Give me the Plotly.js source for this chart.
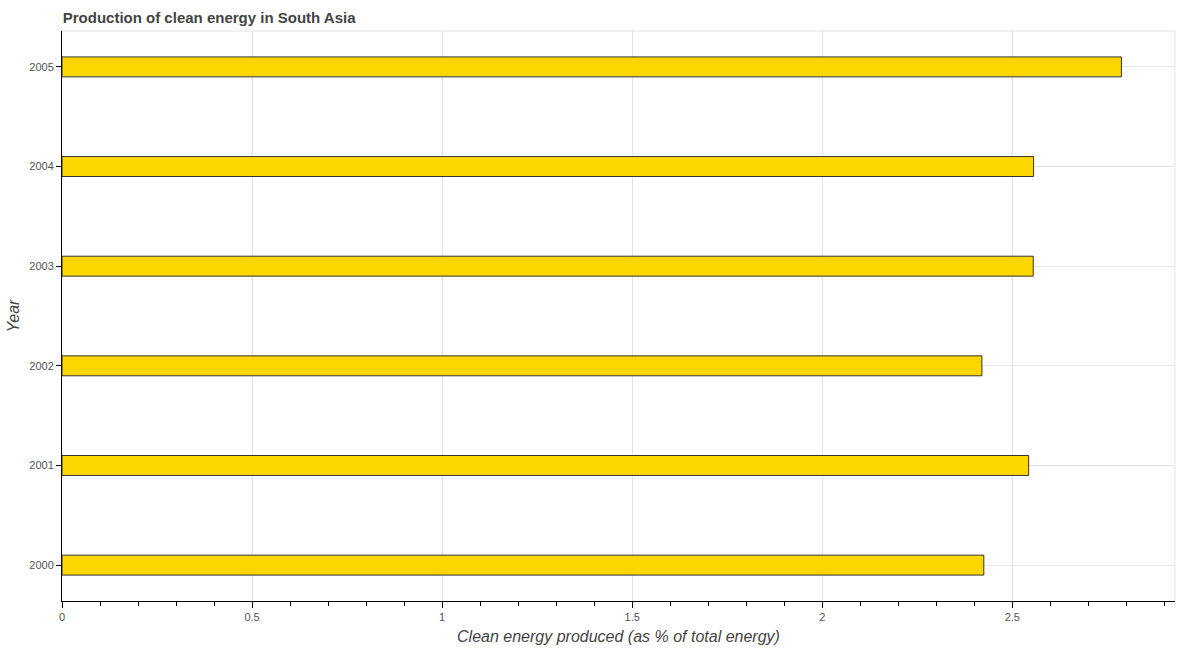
<!DOCTYPE html>
<html>
<head>
<meta charset="utf-8">
<script src="https://cdn.plot.ly/plotly-3.0.1.min.js"></script>
<style>html,body{margin:0;padding:0;background:#fff;}#chart{width:1179px;height:650px;}</style>
</head>
<body>
<div id="chart"></div>
<script>
const years = ["2000", "2001", "2002", "2003", "2004", "2005"];
const cleanEnergy = [2.425, 2.543, 2.420, 2.555, 2.556, 2.787];
const chartTitle = "Production of clean energy in South Asia";
const xTitle = "Clean energy produced (as % of total energy)";
const yTitle = "Year";

const FONT = "Liberation Sans, Arial, sans-serif";

const trace = {
  type: "bar",
  orientation: "h",
  y: years,
  x: cleanEnergy,
  width: 0.2,
  marker: {color: "#FFD700", line: {color: "#333333", width: 1}},
  hoverinfo: "x+y"
};

const layout = {
  width: 1179,
  height: 650,
  margin: {l: 62, r: 4, t: 31, b: 49},
  paper_bgcolor: "#ffffff",
  plot_bgcolor: "#ffffff",
  title: {text: "<b>" + chartTitle + "</b>", x: 0.0532, xanchor: "left", y: 0.972, yanchor: "middle",
          font: {family: FONT, size: 15, color: "#444444"}},
  xaxis: {
    title: {text: "<i>" + xTitle + "</i>", font: {family: FONT, size: 16, color: "#444444"}, standoff: 8},
    range: [0, 2.928],
    dtick: 0.5,
    tick0: 0,
    ticks: "outside",
    ticklen: 6,
    tickcolor: "#000",
    showline: true,
    linecolor: "#000",
    linewidth: 1,
    showgrid: true,
    gridcolor: "#e3e3e3",
    zeroline: false,
    tickfont: {family: FONT, size: 11, color: "#555555"},
    minor: {dtick: 0.1, ticks: "outside", ticklen: 4, tickcolor: "#000", showgrid: false},
    fixedrange: true
  },
  yaxis: {
    title: {text: "<i>" + yTitle + "</i>", font: {family: FONT, size: 16, color: "#444444"}, standoff: 5},
    type: "category",
    categoryorder: "array",
    categoryarray: years,
    range: [-0.36, 5.36],
    ticks: "outside",
    ticklen: 5,
    tickcolor: "#000",
    showline: true,
    linecolor: "#000",
    linewidth: 1,
    showgrid: true,
    gridcolor: "#e3e3e3",
    zeroline: false,
    tickfont: {family: FONT, size: 11, color: "#555555"},
    fixedrange: true
  },
  shapes: [
    {type: "line", xref: "paper", yref: "paper", x0: 0, x1: 1, y0: 1, y1: 1, line: {color: "#e3e3e3", width: 1}},
    {type: "line", xref: "paper", yref: "paper", x0: 1, x1: 1, y0: 0, y1: 1, line: {color: "#e3e3e3", width: 1}}
  ],
  showlegend: false
};

Plotly.newPlot("chart", [trace], layout, {displayModeBar: false, staticPlot: true});
</script>
</body>
</html>
